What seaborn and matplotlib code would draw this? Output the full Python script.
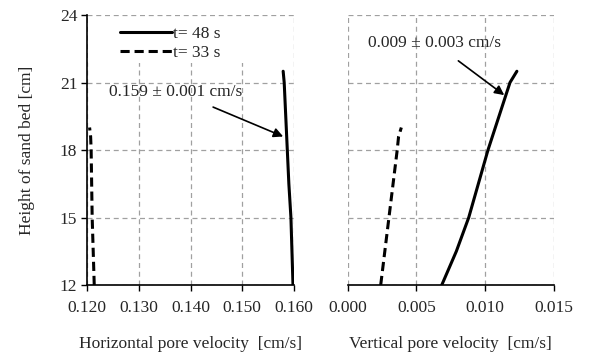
import matplotlib
matplotlib.use("Agg")
import matplotlib.pyplot as plt
from matplotlib.patches import Rectangle
import seaborn as sns
import pandas as pd

sns.set_theme(style="white")
plt.rcParams['font.family'] = ['Liberation Serif', 'DejaVu Serif']

# data
h48 = [12, 13.5, 15, 16.5, 18, 19.5, 21, 21.5]
hor48 = [0.1598, 0.1596, 0.1594, 0.1590, 0.1587, 0.1584, 0.1581, 0.1579]
ver48 = [0.00684, 0.0079, 0.0088, 0.0095, 0.0102, 0.0110, 0.0118, 0.0123]
h33 = [12, 13.5, 15, 16.5, 18, 18.6, 19]
hor33 = [0.1214, 0.1212, 0.1210, 0.1209, 0.1208, 0.1207, 0.1205]
ver33 = [0.0024, 0.0027, 0.0030, 0.0033, 0.0036, 0.0037, 0.0039]
labels = ["t= 48 s", "t= 33 s"]
hor_ticks = [0.120, 0.130, 0.140, 0.150, 0.160]
ver_ticks = [0.000, 0.005, 0.010, 0.015]
y_ticks = [12, 15, 18, 21, 24]

df48 = pd.DataFrame({"h": h48, "hor": hor48, "ver": ver48})
df33 = pd.DataFrame({"h": h33, "hor": hor33, "ver": ver33})

fig = plt.figure(figsize=(5.89, 3.54), dpi=100)
ax1 = fig.add_axes([0.1477, 0.1949, 0.3515, 0.7627])
ax2 = fig.add_axes([0.5903, 0.1949, 0.3503, 0.7627])

fs = 12.5
grid_kw = dict(color="#a0a0a0", linestyle=(0, (4, 3)), linewidth=0.9)

for ax, col, ticks in [(ax1, "hor", hor_ticks), (ax2, "ver", ver_ticks)]:
    sns.lineplot(data=df48, x=col, y="h", sort=False, estimator=None, ax=ax,
                 color="black", linewidth=2.2, label=labels[0], zorder=3)
    sns.lineplot(data=df33, x=col, y="h", sort=False, estimator=None, ax=ax,
                 color="black", linewidth=2.2, linestyle=(0, (3, 1.6)), label=labels[1], zorder=3)
    ax.set_xlim(ticks[0], ticks[-1])
    ax.set_ylim(12, 24)
    ax.set_xticks(ticks)
    ax.set_xticklabels([f"{t:.3f}" for t in ticks], fontsize=fs)
    ax.set_yticks(y_ticks)
    ax.grid(True, **grid_kw)
    ax.set_axisbelow(True)
    for s in ["top", "right"]:
        ax.spines[s].set_visible(False)
    ax.spines["bottom"].set_color("black")
    ax.spines["bottom"].set_linewidth(1.2)
    ax.tick_params(axis="x", direction="out", length=4, width=1, color="black", pad=7)
    ax.set_ylabel("")
    ax.set_facecolor("white")

ax1.spines["left"].set_color("black")
ax1.spines["left"].set_linewidth(1.2)
ax1.set_yticklabels([str(t) for t in y_ticks], fontsize=fs)
ax1.tick_params(axis="y", direction="out", length=4, width=1, color="black", left=True, pad=3)
ax1.tick_params(axis="x", bottom=True)
ax1.set_ylabel("Height of sand bed [cm]", fontsize=fs, labelpad=18)
ax1.set_xlabel("Horizontal pore velocity  [cm/s]", fontsize=fs, labelpad=14)

ax2.spines["left"].set_visible(False)
ax2.set_yticklabels([])
ax2.tick_params(axis="y", length=0, left=False)
ax2.tick_params(axis="x", bottom=True)
ax2.set_xlabel("Vertical pore velocity  [cm/s]", fontsize=fs, labelpad=14)
ax2.get_legend().remove()

# white legend area covering the grid
ax1.add_patch(Rectangle((0.006, 0.822), 0.965, 0.17, transform=ax1.transAxes,
                        facecolor="white", edgecolor="none", zorder=1))

leg = ax1.legend(loc="upper left", bbox_to_anchor=(0.125, 0.985), frameon=False,
                 fontsize=fs, handlelength=3.0, handletextpad=0.05,
                 labelspacing=0.18, borderaxespad=0.0)

ax1.annotate("0.159 \u00b1 0.001 cm/s", xy=(0.1579, 18.6), xytext=(0.1372, 20.6),
             fontsize=fs, ha="center", va="center",
             arrowprops=dict(arrowstyle="-|>", color="black", lw=1.2,
                             mutation_scale=14, shrinkA=8, shrinkB=0))
ax2.annotate("0.009 \u00b1 0.003 cm/s", xy=(0.01138, 20.44), xytext=(0.0063, 22.76),
             fontsize=fs, ha="center", va="center",
             arrowprops=dict(arrowstyle="-|>", color="black", lw=1.2,
                             mutation_scale=14, shrinkA=8, shrinkB=0))

fig.savefig("out.png", dpi=100, facecolor="white")
